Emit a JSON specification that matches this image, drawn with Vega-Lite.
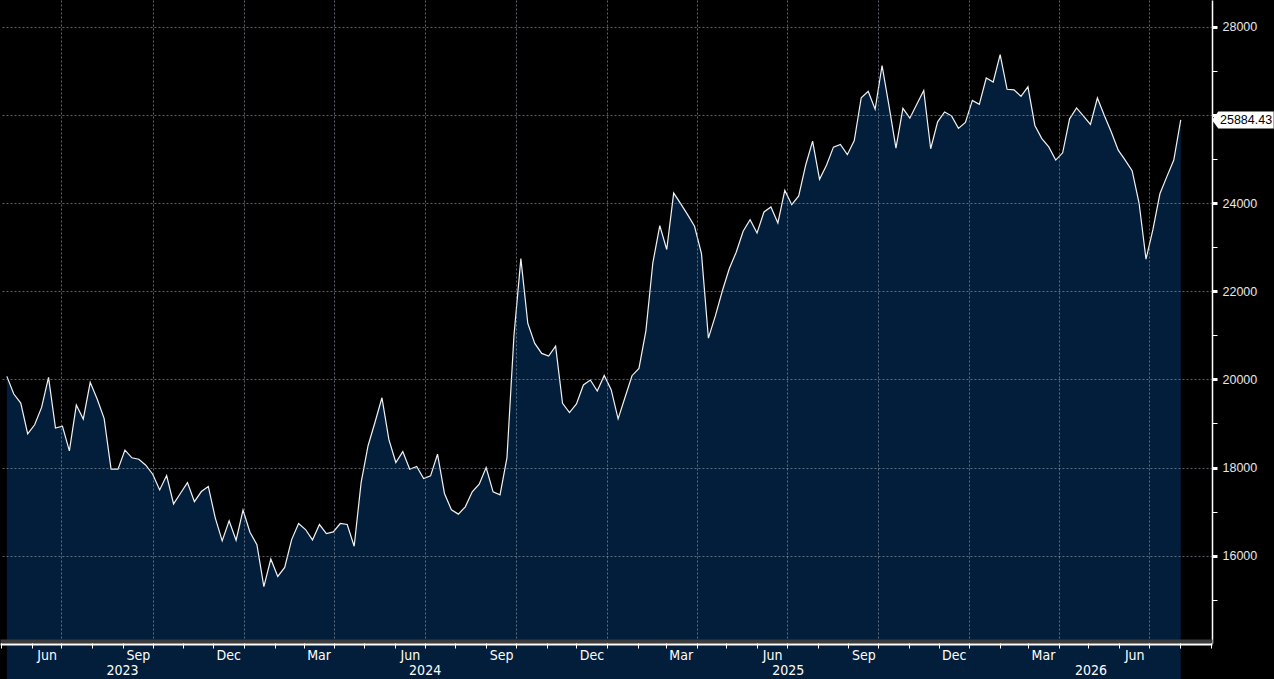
{
  "$schema": "https://vega.github.io/schema/vega-lite/v6.json",
  "width": 1212,
  "height": 643,
  "padding": 0,
  "background": "#000000",
  "config": {"view": {"stroke": null}},
  "data": {
    "values": [
      {"date": "2023-05-07", "value": 20068}, {"date": "2023-05-14", "value": 19667}, {"date": "2023-05-21", "value": 19462}, {"date": "2023-05-28", "value": 18765},
      {"date": "2023-06-04", "value": 18970}, {"date": "2023-06-11", "value": 19364}, {"date": "2023-06-18", "value": 20045}, {"date": "2023-06-25", "value": 18894},
      {"date": "2023-07-02", "value": 18939}, {"date": "2023-07-09", "value": 18379}, {"date": "2023-07-16", "value": 19417}, {"date": "2023-07-23", "value": 19098}, {"date": "2023-07-30", "value": 19932},
      {"date": "2023-08-06", "value": 19553}, {"date": "2023-08-13", "value": 19114}, {"date": "2023-08-20", "value": 17962}, {"date": "2023-08-27", "value": 17962},
      {"date": "2023-09-03", "value": 18394}, {"date": "2023-09-10", "value": 18220}, {"date": "2023-09-17", "value": 18189}, {"date": "2023-09-24", "value": 18053},
      {"date": "2023-10-01", "value": 17848}, {"date": "2023-10-08", "value": 17492}, {"date": "2023-10-15", "value": 17818}, {"date": "2023-10-22", "value": 17174}, {"date": "2023-10-29", "value": 17417},
      {"date": "2023-11-05", "value": 17659}, {"date": "2023-11-12", "value": 17227}, {"date": "2023-11-19", "value": 17455}, {"date": "2023-11-26", "value": 17570},
      {"date": "2023-12-03", "value": 16859}, {"date": "2023-12-10", "value": 16335}, {"date": "2023-12-17", "value": 16791}, {"date": "2023-12-24", "value": 16350}, {"date": "2023-12-31", "value": 17034},
      {"date": "2024-01-07", "value": 16532}, {"date": "2024-01-14", "value": 16251}, {"date": "2024-01-21", "value": 15300}, {"date": "2024-01-28", "value": 15924},
      {"date": "2024-02-04", "value": 15528}, {"date": "2024-02-11", "value": 15734}, {"date": "2024-02-18", "value": 16365}, {"date": "2024-02-25", "value": 16730},
      {"date": "2024-03-03", "value": 16593}, {"date": "2024-03-10", "value": 16357}, {"date": "2024-03-17", "value": 16707}, {"date": "2024-03-24", "value": 16502}, {"date": "2024-03-31", "value": 16540},
      {"date": "2024-04-07", "value": 16730}, {"date": "2024-04-14", "value": 16707}, {"date": "2024-04-21", "value": 16213}, {"date": "2024-04-28", "value": 17658},
      {"date": "2024-05-05", "value": 18494}, {"date": "2024-05-12", "value": 19027}, {"date": "2024-05-19", "value": 19582}, {"date": "2024-05-26", "value": 18631},
      {"date": "2024-06-02", "value": 18114}, {"date": "2024-06-09", "value": 18360}, {"date": "2024-06-16", "value": 17960}, {"date": "2024-06-23", "value": 18023}, {"date": "2024-06-30", "value": 17751},
      {"date": "2024-07-07", "value": 17811}, {"date": "2024-07-14", "value": 18302}, {"date": "2024-07-21", "value": 17411}, {"date": "2024-07-28", "value": 17042},
      {"date": "2024-08-04", "value": 16943}, {"date": "2024-08-11", "value": 17109}, {"date": "2024-08-18", "value": 17449}, {"date": "2024-08-25", "value": 17623},
      {"date": "2024-09-01", "value": 18000}, {"date": "2024-09-08", "value": 17449}, {"date": "2024-09-15", "value": 17381}, {"date": "2024-09-22", "value": 18226}, {"date": "2024-09-29", "value": 20981},
      {"date": "2024-10-06", "value": 22740}, {"date": "2024-10-13", "value": 21268}, {"date": "2024-10-20", "value": 20815}, {"date": "2024-10-27", "value": 20589},
      {"date": "2024-11-03", "value": 20528}, {"date": "2024-11-10", "value": 20755}, {"date": "2024-11-17", "value": 19457}, {"date": "2024-11-24", "value": 19245},
      {"date": "2024-12-01", "value": 19442}, {"date": "2024-12-08", "value": 19872}, {"date": "2024-12-15", "value": 19985}, {"date": "2024-12-22", "value": 19736}, {"date": "2024-12-29", "value": 20087},
      {"date": "2025-01-05", "value": 19766}, {"date": "2025-01-12", "value": 19104}, {"date": "2025-01-19", "value": 19593}, {"date": "2025-01-26", "value": 20083},
      {"date": "2025-02-02", "value": 20249}, {"date": "2025-02-09", "value": 21100}, {"date": "2025-02-16", "value": 22644}, {"date": "2025-02-23", "value": 23488},
      {"date": "2025-03-02", "value": 22945}, {"date": "2025-03-09", "value": 24226}, {"date": "2025-03-16", "value": 23985}, {"date": "2025-03-23", "value": 23736}, {"date": "2025-03-30", "value": 23473},
      {"date": "2025-04-06", "value": 22855}, {"date": "2025-04-13", "value": 20934}, {"date": "2025-04-20", "value": 21439}, {"date": "2025-04-27", "value": 22004},
      {"date": "2025-05-04", "value": 22508}, {"date": "2025-05-11", "value": 22885}, {"date": "2025-05-18", "value": 23360}, {"date": "2025-05-25", "value": 23623},
      {"date": "2025-06-01", "value": 23322}, {"date": "2025-06-08", "value": 23797}, {"date": "2025-06-15", "value": 23910}, {"date": "2025-06-22", "value": 23548}, {"date": "2025-06-29", "value": 24286},
      {"date": "2025-07-06", "value": 23962}, {"date": "2025-07-13", "value": 24160}, {"date": "2025-07-20", "value": 24858}, {"date": "2025-07-27", "value": 25403},
      {"date": "2025-08-03", "value": 24537}, {"date": "2025-08-10", "value": 24858}, {"date": "2025-08-17", "value": 25269}, {"date": "2025-08-24", "value": 25328}, {"date": "2025-08-31", "value": 25097},
      {"date": "2025-09-07", "value": 25418}, {"date": "2025-09-14", "value": 26388}, {"date": "2025-09-21", "value": 26537}, {"date": "2025-09-28", "value": 26127},
      {"date": "2025-10-05", "value": 27120}, {"date": "2025-10-12", "value": 26202}, {"date": "2025-10-19", "value": 25246}, {"date": "2025-10-26", "value": 26149},
      {"date": "2025-11-02", "value": 25925}, {"date": "2025-11-09", "value": 26239}, {"date": "2025-11-16", "value": 26552}, {"date": "2025-11-23", "value": 25231}, {"date": "2025-11-30", "value": 25843},
      {"date": "2025-12-07", "value": 26067}, {"date": "2025-12-14", "value": 25978}, {"date": "2025-12-21", "value": 25694}, {"date": "2025-12-28", "value": 25828},
      {"date": "2026-01-04", "value": 26328}, {"date": "2026-01-11", "value": 26239}, {"date": "2026-01-18", "value": 26836}, {"date": "2026-01-25", "value": 26746},
      {"date": "2026-02-01", "value": 27365}, {"date": "2026-02-08", "value": 26580}, {"date": "2026-02-15", "value": 26569}, {"date": "2026-02-22", "value": 26419},
      {"date": "2026-03-01", "value": 26637}, {"date": "2026-03-08", "value": 25760}, {"date": "2026-03-15", "value": 25461}, {"date": "2026-03-22", "value": 25273}, {"date": "2026-03-29", "value": 24974},
      {"date": "2026-04-05", "value": 25139}, {"date": "2026-04-12", "value": 25910}, {"date": "2026-04-19", "value": 26157}, {"date": "2026-04-26", "value": 25970},
      {"date": "2026-05-03", "value": 25783}, {"date": "2026-05-10", "value": 26382}, {"date": "2026-05-17", "value": 25985}, {"date": "2026-05-24", "value": 25611}, {"date": "2026-05-31", "value": 25199},
      {"date": "2026-06-07", "value": 24974}, {"date": "2026-06-14", "value": 24734}, {"date": "2026-06-21", "value": 24000}, {"date": "2026-06-28", "value": 22727},
      {"date": "2026-07-05", "value": 23401}, {"date": "2026-07-12", "value": 24210}, {"date": "2026-07-19", "value": 24599}, {"date": "2026-07-26", "value": 24974},
      {"date": "2026-08-02", "value": 25884.43}
    ]
  },
  "resolve": {"axis": {"x": "independent", "y": "independent"}},
  "layer": [
    {
      "mark": {"type": "area", "color": "#021e3a", "opacity": 1},
      "encoding": {
        "x": {
          "field": "date", "type": "temporal",
          "scale": {"type": "utc", "domain": [{"year": 2023, "month": 4, "date": 30, "hours": 2, "utc": true}, {"year": 2026, "month": 9, "date": 2, "hours": 12, "utc": true}]},
          "axis": {
            "orient": "bottom", "offset": -2, "title": null, "zindex": 1,
            "tickCount": {"interval": "month", "step": 1},
            "domainColor": "#3c3c3c", "domainWidth": 4,
            "tickColor": "#ffffff", "tickSize": 7, "tickWidth": 1,
            "labelExpr": "(utcmonth(datum.value) + 1) % 3 == 0 && scale('x', datum.value) + 25 < width ? utcFormat(datum.value, '%b') : ''",
            "labelOffset": 15, "labelPadding": 0, "labelOverlap": false, "labelFlush": false, "labelBound": false,
            "labelFont": "Liberation Sans Narrow, DejaVu Sans Condensed, Liberation Sans", "labelFontSize": 14, "labelColor": "#ffffff",
            "grid": true, "gridColor": "#9aa5b1", "gridDash": [2, 2], "gridWidth": 1,
            "gridOpacity": {"condition": {"test": "utcmonth(datum.value) % 3 == 0", "value": 0.6}, "value": 0}
          }
        },
        "y": {
          "field": "value", "type": "quantitative",
          "scale": {"domain": [14019, 28606], "zero": false, "nice": false},
          "axis": {
            "orient": "right", "title": null, "zindex": 1,
            "values": [16000, 18000, 20000, 22000, 24000, 26000, 28000],
            "domain": false, "ticks": false, "labels": false,
            "grid": true, "gridColor": "#9aa5b1", "gridDash": [2, 2], "gridWidth": 1, "gridOpacity": 0.6
          }
        }
      }
    },
    {
      "mark": {"type": "line", "color": "#f2f2f2", "strokeWidth": 1.2},
      "encoding": {
        "x": {
          "field": "date", "type": "temporal",
          "scale": {"type": "utc", "domain": [{"year": 2023, "month": 4, "date": 30, "hours": 2, "utc": true}, {"year": 2026, "month": 9, "date": 2, "hours": 12, "utc": true}]},
          "axis": {
            "orient": "bottom", "offset": 1, "title": null, "zindex": 1,
            "values": [
              {"year": 2023, "month": 8, "date": 31, "utc": true},
              {"year": 2024, "month": 7, "date": 1, "utc": true},
              {"year": 2025, "month": 7, "date": 2, "utc": true},
              {"year": 2026, "month": 5, "date": 3, "utc": true}
            ],
            "ticks": false, "grid": false,
            "domainColor": "#ffffff", "domainWidth": 2,
            "labelExpr": "utcFormat(datum.value, '%Y')",
            "labelPadding": 19, "labelOverlap": false, "labelFlush": false, "labelBound": false,
            "labelFont": "Liberation Sans Narrow, DejaVu Sans Condensed, Liberation Sans", "labelFontSize": 14, "labelColor": "#ffffff"
          }
        },
        "y": {
          "field": "value", "type": "quantitative",
          "scale": {"domain": [14019, 28606], "zero": false, "nice": false},
          "axis": {
            "orient": "right", "title": null, "zindex": 0,
            "values": [15000, 16000, 17000, 18000, 19000, 20000, 21000, 22000, 23000, 24000, 25000, 26000, 27000, 28000],
            "format": "d",
            "labelExpr": "datum.value % 2000 == 0 && datum.value != 26000 ? datum.label : ''",
            "domainColor": "#ffffff", "domainWidth": 1.5,
            "tickColor": "#ffffff", "tickSize": 5,
            "tickWidth": {"condition": {"test": "datum.value % 2000 == 0", "value": 3}, "value": 1},
            "labelPadding": 5, "labelOverlap": false,
            "labelFont": "Liberation Sans", "labelFontSize": 12.5, "labelColor": "#e8e8e8",
            "grid": false
          }
        }
      }
    },
    {
      "transform": [
        {"window": [{"op": "row_number", "as": "r"}], "sort": [{"field": "date", "order": "descending"}]},
        {"filter": "datum.r == 1"}
      ],
      "mark": {"type": "point", "shape": "M0,0L0.7,-0.95L6.85,-0.95L6.85,0.95L0.7,0.95Z", "size": 324, "filled": true, "color": "#ffffff", "opacity": 1, "strokeWidth": 0},
      "encoding": {
        "x": {
          "datum": {"year": 2026, "month": 9, "date": 2, "hours": 12, "utc": true}, "type": "temporal",
          "scale": {"type": "utc", "domain": [{"year": 2023, "month": 4, "date": 30, "hours": 2, "utc": true}, {"year": 2026, "month": 9, "date": 2, "hours": 12, "utc": true}]},
          "axis": {
            "orient": "bottom", "offset": 18, "title": null,
            "values": [
              {"year": 2024, "month": 1, "date": 1, "utc": true},
              {"year": 2025, "month": 1, "date": 1, "utc": true},
              {"year": 2026, "month": 1, "date": 1, "utc": true}
            ],
            "domain": false, "labels": false, "grid": false,
            "tickColor": "#8a8a8a", "tickSize": 17, "tickWidth": 1
          }
        },
        "y": {
          "field": "value", "type": "quantitative",
          "scale": {"domain": [14019, 28606], "zero": false, "nice": false},
          "axis": null
        }
      }
    },
    {
      "transform": [
        {"window": [{"op": "row_number", "as": "r"}], "sort": [{"field": "date", "order": "descending"}]},
        {"filter": "datum.r == 1"}
      ],
      "mark": {"type": "text", "align": "left", "baseline": "middle", "dx": 8, "font": "Liberation Sans", "fontSize": 12.5, "color": "#000000"},
      "encoding": {
        "x": {
          "datum": {"year": 2026, "month": 9, "date": 2, "hours": 12, "utc": true}, "type": "temporal",
          "scale": {"type": "utc", "domain": [{"year": 2023, "month": 4, "date": 30, "hours": 2, "utc": true}, {"year": 2026, "month": 9, "date": 2, "hours": 12, "utc": true}]},
          "axis": null
        },
        "y": {
          "field": "value", "type": "quantitative",
          "scale": {"domain": [14019, 28606], "zero": false, "nice": false},
          "axis": null
        },
        "text": {"field": "value", "type": "quantitative", "format": ".2f"}
      }
    }
  ]
}
